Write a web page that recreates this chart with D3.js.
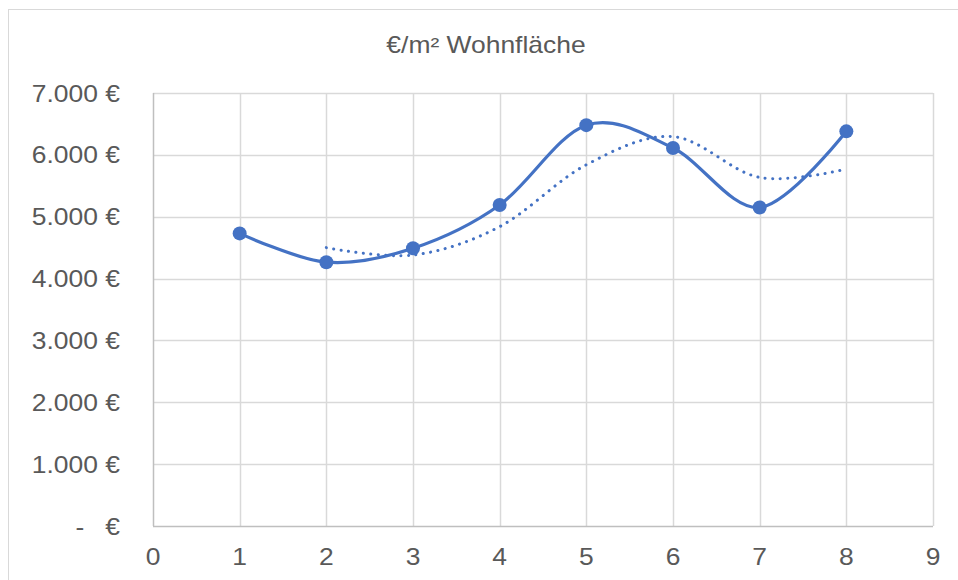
<!DOCTYPE html>
<html>
<head>
<meta charset="utf-8">
<script src="https://cdn.jsdelivr.net/npm/d3@7"></script>
<style>
  body { margin: 0; background: #fff; }
  text { font-family: "Liberation Sans", Arial, sans-serif; fill: #595959; font-size: 23px; }
</style>
</head>
<body>
<svg id="chart" width="958" height="580"></svg>
<script>
// data
var xValues = [1, 2, 3, 4, 5, 6, 7, 8];
var prices = [4730, 4265, 4490, 5190, 6480, 6110, 5150, 6380];
// moving average trendline (2 periods), starts at x = 2
var avgX = [2, 3, 4, 5, 6, 7, 8];
var avgValues = [4500, 4380, 4840, 5840, 6295, 5635, 5770];
var xTicks = [0, 1, 2, 3, 4, 5, 6, 7, 8, 9];
var yTicks = [0, 1000, 2000, 3000, 4000, 5000, 6000, 7000];

var svg = d3.select("#chart");
var margin = { top: 93, right: 25, bottom: 54, left: 153 },
    width = 958 - margin.left - margin.right,
    height = 580 - margin.top - margin.bottom;

var blue = "#4472c4";
var stretch = 1.15; // text in the picture is a bit wider than plain Arial

// place text with a horizontal stretch
function place(sel, fx, fy) {
    sel.attr("transform", function (d, i) {
        return "translate(" + fx(d, i) + "," + fy(d, i) + ") scale(" + stretch + ",1)";
    });
}

// chart frame
svg.append("rect")
    .attr("x", 8.5).attr("y", 9.5)
    .attr("width", 1000).attr("height", 1000)
    .attr("fill", "none")
    .attr("stroke", "#d9d9d9");

svg.append("text")
    .attr("text-anchor", "middle")
    .attr("transform", "translate(486,53) scale(" + stretch + ",1)")
    .text("€/m² Wohnfläche");

var x = d3.scaleLinear().domain([0, 9]).range([0, width]);
var y = d3.scaleLinear().domain([0, 7000]).range([height, 0]);

var g = svg.append("g")
    .attr("transform", "translate(" + margin.left + "," + margin.top + ")");

// gridlines
g.append("g")
    .selectAll("line")
    .data(yTicks.slice(1))
    .enter().append("line")
    .attr("x1", 0).attr("x2", width)
    .attr("y1", function (d) { return Math.round(y(d)) + 0.5; })
    .attr("y2", function (d) { return Math.round(y(d)) + 0.5; })
    .attr("stroke", "#d9d9d9").attr("stroke-width", 1.5);

g.append("g")
    .selectAll("line")
    .data(xTicks.slice(1))
    .enter().append("line")
    .attr("x1", function (d) { return Math.round(x(d)) + 0.5; })
    .attr("x2", function (d) { return Math.round(x(d)) + 0.5; })
    .attr("y1", 0).attr("y2", height)
    .attr("stroke", "#d9d9d9").attr("stroke-width", 1.5);

// axis lines
g.append("line")
    .attr("x1", 0.5).attr("x2", 0.5)
    .attr("y1", 0).attr("y2", height)
    .attr("stroke", "#bfbfbf").attr("stroke-width", 1.5);
g.append("line")
    .attr("x1", 0).attr("x2", width)
    .attr("y1", height + 0.5).attr("y2", height + 0.5)
    .attr("stroke", "#bfbfbf").attr("stroke-width", 1.5);

// y labels
g.append("g")
    .selectAll("text")
    .data(yTicks)
    .enter().append("text")
    .attr("dy", "0.37em")
    .attr("text-anchor", "end")
    .call(place, function () { return -33; }, function (d) { return y(d); })
    .text(function (d) { return d === 0 ? "€" : d3.format(",")(d).replace(",", ".") + " €"; });

g.append("text")
    .attr("dy", "0.37em")
    .attr("text-anchor", "middle")
    .attr("transform", "translate(-73," + y(0) + ") scale(" + stretch + ",1)")
    .text("-");

// x labels
g.append("g")
    .selectAll("text")
    .data(xTicks)
    .enter().append("text")
    .attr("text-anchor", "middle")
    .call(place, function (d) { return x(d); }, function () { return height + 39; })
    .text(function (d) { return d; });

var line = d3.line()
    .x(function (d) { return x(d[0]); })
    .y(function (d) { return y(d[1]); })
    .curve(d3.curveCatmullRom.alpha(0));

// moving average trendline (dotted)
g.append("path")
    .datum(avgX.map(function (d, i) { return [d, avgValues[i]]; }))
    .attr("d", line)
    .attr("fill", "none")
    .attr("stroke", blue)
    .attr("stroke-width", 3)
    .attr("stroke-linecap", "round")
    .attr("stroke-dasharray", "0.1,7.4");

// smoothed series
var pts = xValues.map(function (d, i) { return [d, prices[i]]; });
g.append("path")
    .datum(pts)
    .attr("d", line)
    .attr("fill", "none")
    .attr("stroke", blue)
    .attr("stroke-width", 3.2)
    .attr("stroke-linecap", "round");

g.selectAll(".dot")
    .data(pts)
    .enter().append("circle")
    .attr("class", "dot")
    .attr("cx", function (d) { return x(d[0]); })
    .attr("cy", function (d) { return y(d[1]); })
    .attr("r", 7)
    .attr("fill", blue);
</script>
</body>
</html>
